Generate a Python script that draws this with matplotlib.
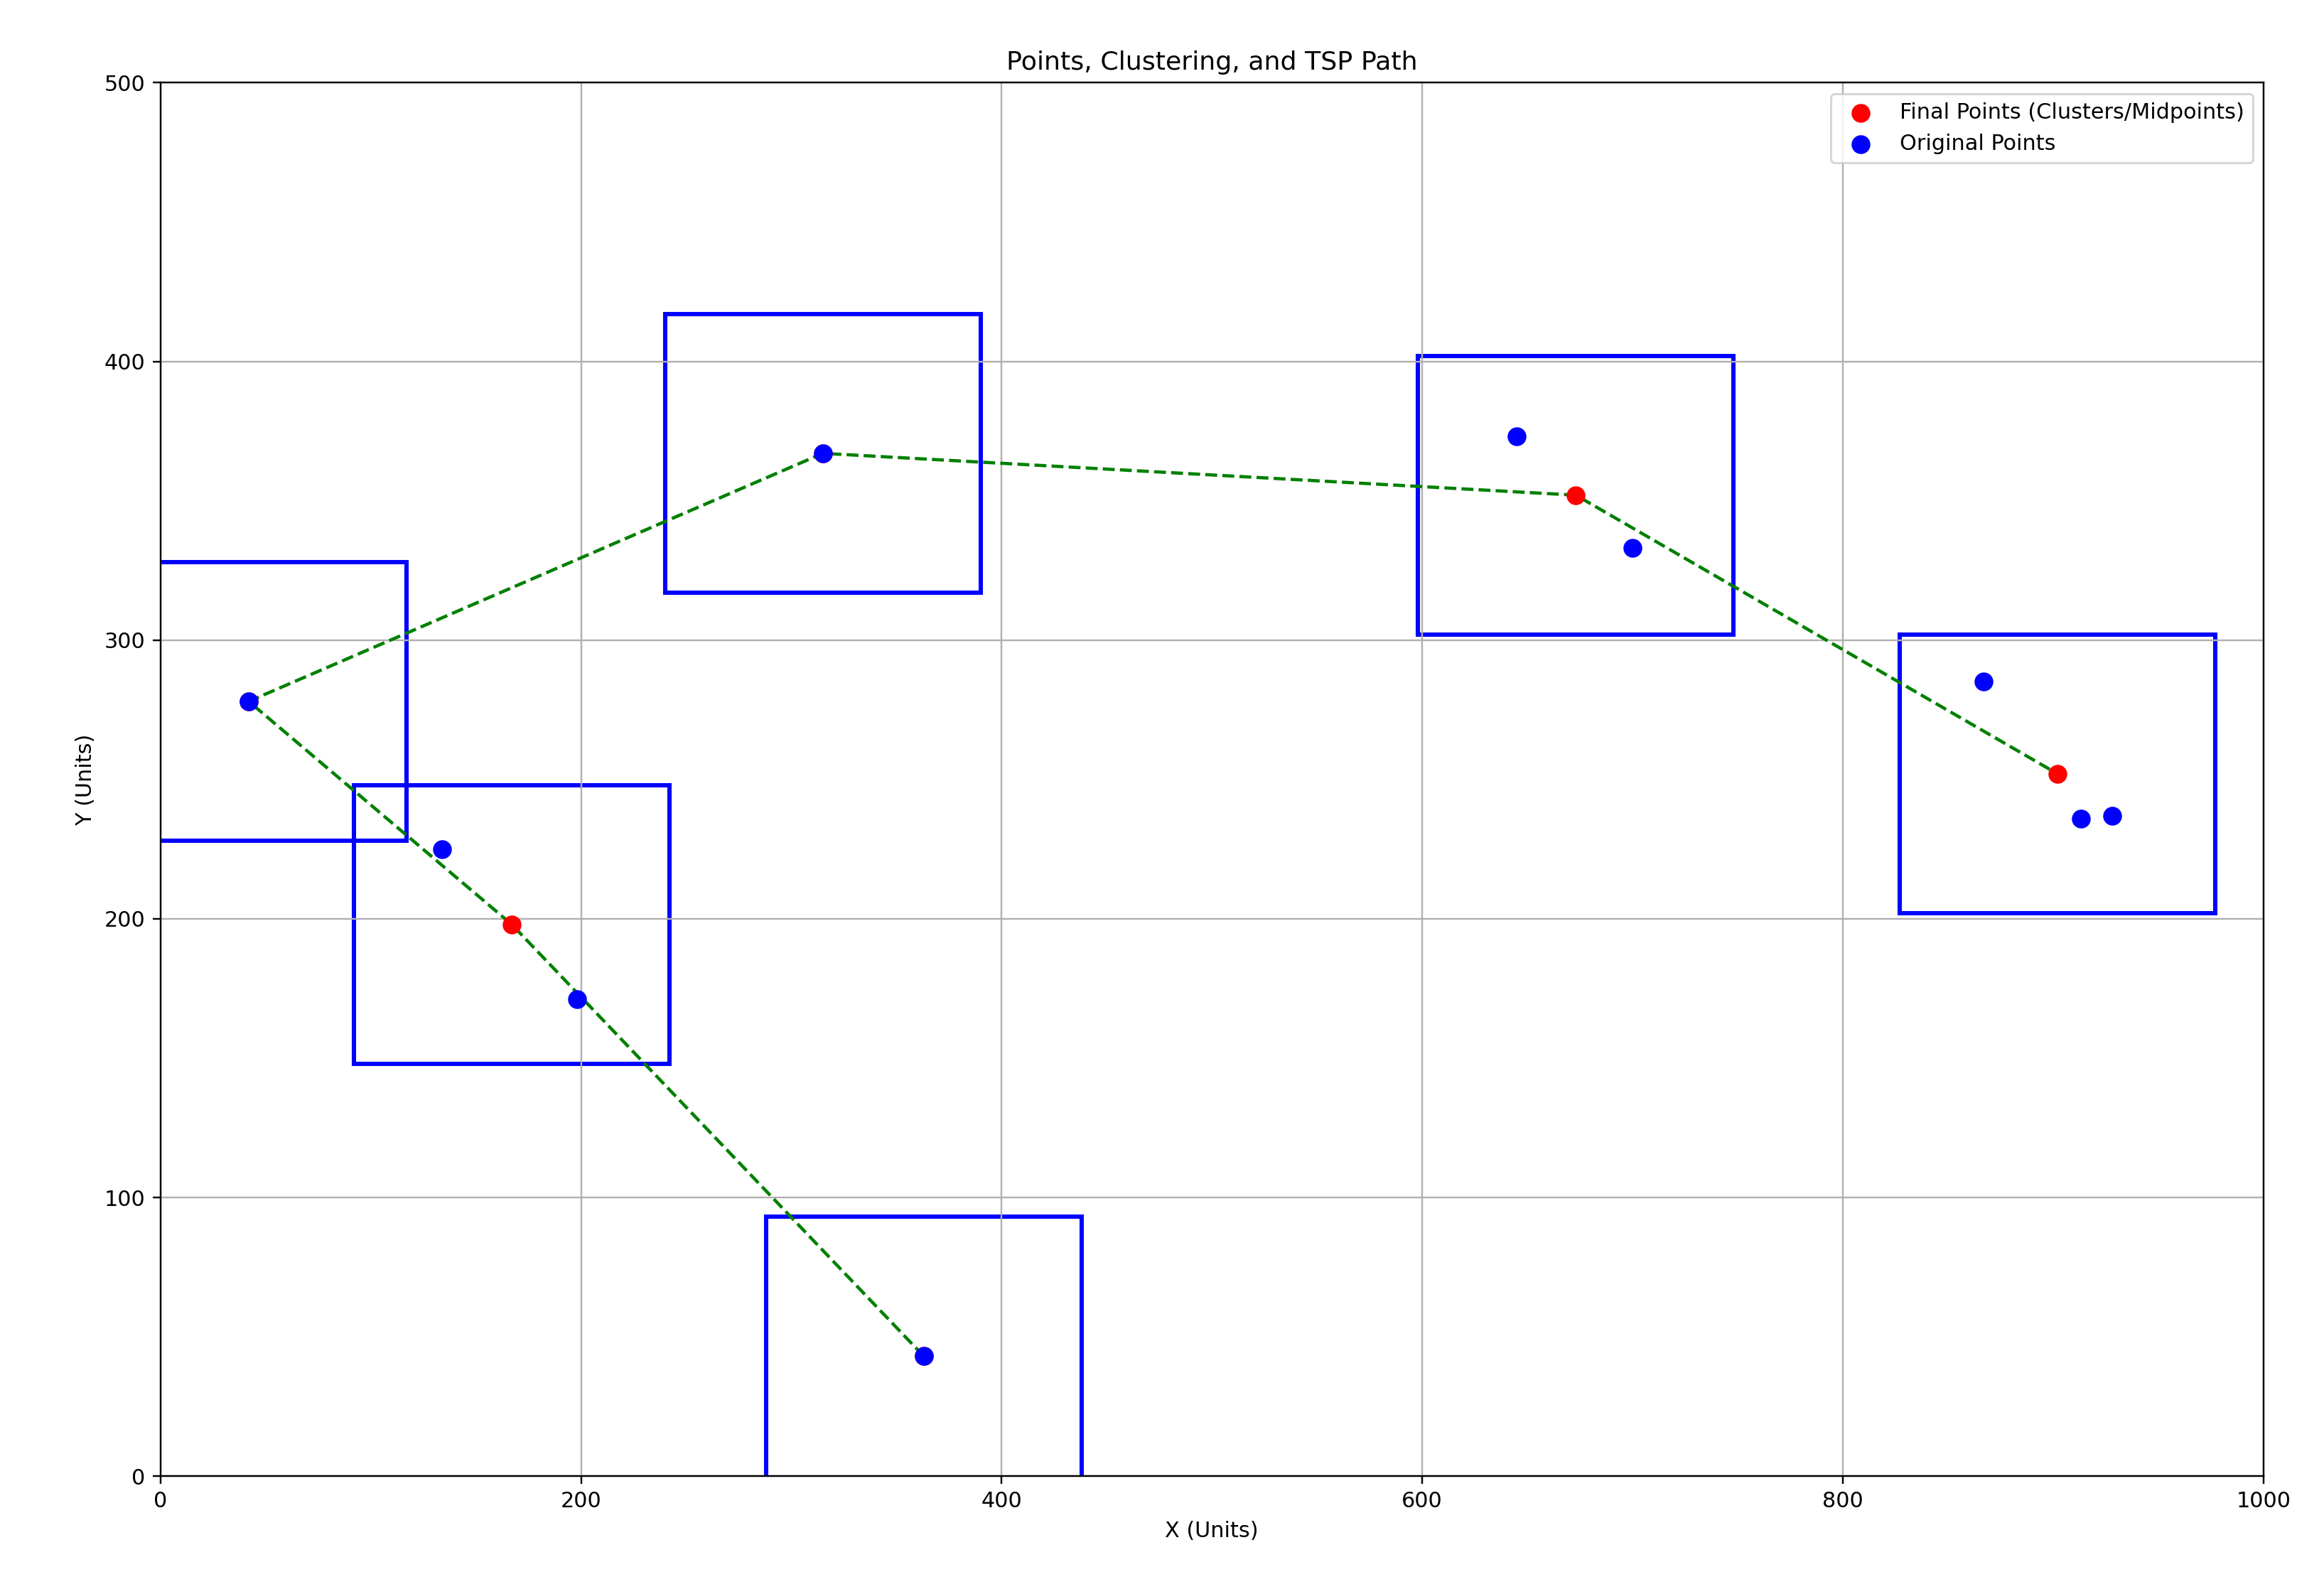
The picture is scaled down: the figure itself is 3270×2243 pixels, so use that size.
import matplotlib.pyplot as plt
import matplotlib.patches as patches

# original points
orig_x = [42, 315, 645, 700, 867, 913, 928, 134, 198, 363]
orig_y = [278, 367, 373, 333, 285, 236, 237, 225, 171, 43]

# final points (clusters / midpoints / singletons), in TSP order
final_x = [363, 167, 42, 315, 673, 902]
final_y = [43, 198, 278, 367, 352, 252]

box_w, box_h = 150, 100

fig = plt.figure(figsize=(15, 10.29), dpi=218)
ax = fig.add_axes([0.069, 0.074, 0.905, 0.874])

for x, y in zip(final_x, final_y):
    ax.add_patch(patches.Rectangle((x - box_w / 2, y - box_h / 2), box_w, box_h,
                                   fill=False, edgecolor='blue', linewidth=2))

ax.plot(final_x, final_y, linestyle='--', color='green', linewidth=1.5)
ax.scatter(final_x, final_y, color='red', s=60, label='Final Points (Clusters/Midpoints)', zorder=3)
ax.scatter(orig_x, orig_y, color='blue', s=60, label='Original Points', zorder=4)

ax.set_xlim(0, 1000)
ax.set_ylim(0, 500)
ax.set_title('Points, Clustering, and TSP Path')
ax.set_xlabel('X (Units)')
ax.set_ylabel('Y (Units)')
ax.grid(True)
ax.legend(loc='upper right')

fig.savefig('out.png', dpi=218)
